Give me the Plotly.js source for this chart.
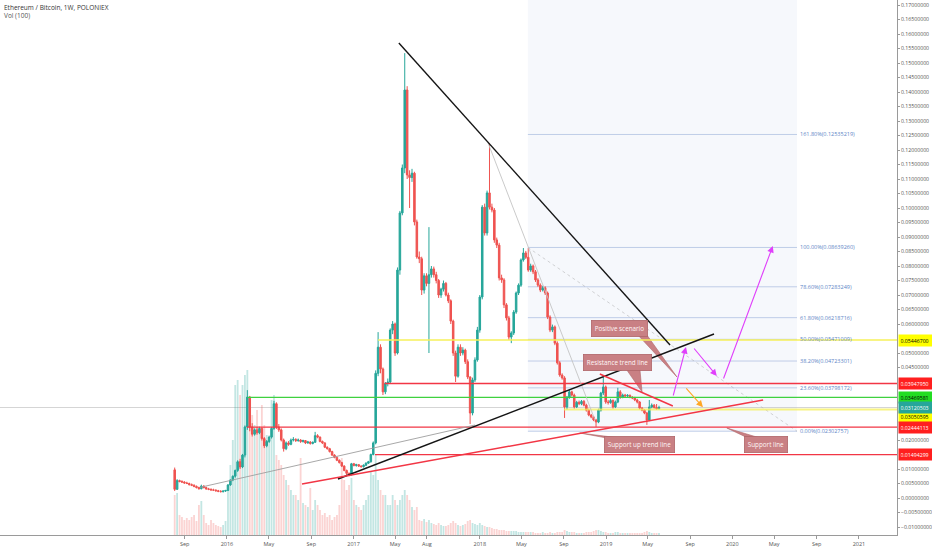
<!DOCTYPE html>
<html>
<head>
<meta charset="utf-8">
<script src="https://cdn.plot.ly/plotly-3.0.1.min.js"></script>
<style>html,body{margin:0;padding:0;background:#fff;}#chart{width:932px;height:550px;}</style>
</head>
<body>
<div id="chart"></div>
<script>
// ===== DATA (weekly ETH/BTC, Poloniex) =====
const firstWeek = '2015-08-03';
const opens = [
.0097,.0030,.0060,.0057,.0055,.0052,.0050,.0046,.0044,.0040,
.0036,.0032,.0041,.0036,.0031,.0030,.0028,.0027,.0025,.0023,
.0022,.0024,.0026,.0045,.0062,.0075,.0095,.0125,.0107,.0148,
.0245,.0348,.0245,.0220,.0235,.0225,.0240,.0205,.0180,.0195,
.0210,.0240,.0325,.0245,.0235,.0200,.0170,.0190,.0185,.0200,
.0202,.0198,.0200,.0195,.0198,.0190,.0193,.0188,.0192,.0215,
.0210,.0195,.0190,.0175,.0170,.0160,.0148,.0140,.0130,.0122,
.0110,.0095,.0085,.0080,.0118,.0112,.0115,.0110,.0108,.0113,
.0120,.0125,.0150,.0190,.0430,.0520,.0445,.0366,.0395,.0400,
.0579,.0600,.0500,.0786,.0983,.1138,.1407,.1114,.1105,.1120,
.0952,.0831,.0825,.0717,.0766,.0740,.0770,.0790,.0770,.0750,
.0700,.0720,.0740,.0700,.0680,.0610,.0500,.0420,.0520,.0500,
.0510,.0470,.0417,.0293,.0407,.0476,.0579,.0693,.1003,.0914,
.1052,.1003,.0993,.0890,.0872,.0759,.0752,.0666,.0621,.0555,
.0569,.0641,.0707,.0734,.0821,.0845,.0830,.0786,.0800,.0780,
.0752,.0734,.0717,.0725,.0707,.0624,.0579,.0590,.0534,.0466,
.0424,.0414,.0314,.0348,.0366,.0355,.0314,.0330,.0325,.0333,
.0320,.0303,.0286,.0279,.0269,.0262,.0303,.0362,.0383,.0331,
.0329,.0336,.0314,.0331,.0366,.0348,.0355,.0352,.0354,.0348,
.0345,.0338,.0331,.0310,.0303,.0293,.0269,.0314,.0320,.0312,
.0308];
const highs = [
.0105,.0065,.0063,.0061,.0058,.0056,.0053,.0050,.0047,.0043,
.0039,.0046,.0044,.0039,.0035,.0033,.0032,.0030,.0028,.0027,
.0026,.0028,.0048,.0064,.0078,.0098,.0130,.0135,.0152,.0250,
.0372,.0352,.0258,.0240,.0245,.0246,.0243,.0210,.0200,.0215,
.0245,.0335,.0330,.0255,.0240,.0205,.0195,.0196,.0205,.0210,
.0206,.0205,.0203,.0201,.0200,.0197,.0196,.0195,.0228,.0220,
.0212,.0198,.0192,.0178,.0173,.0163,.0151,.0143,.0133,.0125,
.0113,.0098,.0088,.0121,.0121,.0118,.0117,.0113,.0116,.0123,
.0128,.0153,.0195,.0440,.0572,.0530,.0450,.0400,.0412,.0585,
.0610,.0605,.0795,.0990,.1150,.1534,.1420,.1130,.1135,.1125,
.0960,.0850,.0832,.0775,.0775,.0934,.0800,.0798,.0780,.0755,
.0725,.0750,.0745,.0708,.0685,.0615,.0508,.0530,.0530,.0520,
.0515,.0478,.0420,.0415,.0485,.0590,.0700,.1010,.1015,.1060,
.1224,.1015,.1000,.0898,.0880,.0770,.0758,.0672,.0628,.0575,
.0648,.0712,.0740,.0826,.0862,.0852,.0862,.0808,.0805,.0786,
.0758,.0740,.0732,.0730,.0712,.0630,.0598,.0595,.0540,.0472,
.0430,.0420,.0352,.0372,.0370,.0360,.0335,.0336,.0338,.0338,
.0325,.0308,.0290,.0283,.0273,.0308,.0366,.0417,.0388,.0338,
.0342,.0340,.0336,.0380,.0372,.0360,.0359,.0358,.0357,.0351,
.0349,.0342,.0334,.0314,.0307,.0297,.0338,.0326,.0324,.0324,
.0318];
const lows = [
.0024,.0028,.0054,.0052,.0049,.0048,.0043,.0041,.0037,.0033,
.0029,.0030,.0033,.0029,.0027,.0025,.0024,.0022,.0020,.0019,
.0019,.0021,.0024,.0042,.0058,.0070,.0090,.0100,.0103,.0140,
.0235,.0230,.0212,.0215,.0218,.0220,.0198,.0172,.0175,.0190,
.0205,.0235,.0238,.0228,.0195,.0160,.0165,.0180,.0182,.0195,
.0193,.0194,.0190,.0191,.0186,.0187,.0184,.0185,.0190,.0206,
.0192,.0186,.0172,.0167,.0157,.0145,.0137,.0127,.0119,.0107,
.0092,.0079,.0075,.0078,.0109,.0108,.0107,.0105,.0105,.0110,
.0117,.0122,.0147,.0185,.0420,.0430,.0355,.0358,.0385,.0395,
.0565,.0490,.0495,.0770,.0975,.1120,.1100,.1000,.1090,.0940,
.0825,.0810,.0700,.0705,.0730,.0500,.0760,.0760,.0740,.0690,
.0690,.0712,.0695,.0672,.0600,.0490,.0400,.0415,.0490,.0492,
.0462,.0410,.0255,.0285,.0400,.0470,.0570,.0685,.0905,.0905,
.0995,.0985,.0880,.0862,.0750,.0742,.0655,.0612,.0545,.0534,
.0562,.0635,.0700,.0728,.0815,.0824,.0780,.0780,.0772,.0745,
.0728,.0710,.0712,.0700,.0617,.0572,.0572,.0527,.0460,.0418,
.0408,.0276,.0305,.0342,.0350,.0308,.0310,.0320,.0320,.0316,
.0298,.0282,.0275,.0265,.0245,.0258,.0298,.0355,.0325,.0322,
.0325,.0308,.0310,.0327,.0342,.0344,.0347,.0348,.0344,.0341,
.0334,.0326,.0305,.0299,.0289,.0252,.0265,.0309,.0308,.0304,
.0305];
const closes = [
.0030,.0060,.0057,.0055,.0052,.0050,.0046,.0044,.0040,.0036,
.0032,.0041,.0036,.0031,.0030,.0028,.0027,.0025,.0023,.0022,
.0024,.0026,.0045,.0062,.0075,.0095,.0125,.0107,.0148,.0245,
.0348,.0245,.0220,.0235,.0225,.0240,.0205,.0180,.0195,.0210,
.0240,.0325,.0245,.0235,.0200,.0170,.0190,.0185,.0200,.0202,
.0198,.0200,.0195,.0198,.0190,.0193,.0188,.0192,.0215,.0210,
.0195,.0190,.0175,.0170,.0160,.0148,.0140,.0130,.0122,.0110,
.0095,.0085,.0080,.0118,.0112,.0115,.0110,.0108,.0113,.0120,
.0125,.0150,.0190,.0430,.0520,.0445,.0366,.0395,.0400,.0579,
.0600,.0500,.0786,.0983,.1138,.1407,.1114,.1105,.1120,.0952,
.0831,.0825,.0717,.0766,.0740,.0770,.0790,.0770,.0750,.0700,
.0720,.0740,.0700,.0680,.0610,.0500,.0420,.0520,.0500,.0510,
.0470,.0417,.0293,.0407,.0476,.0579,.0693,.1003,.0914,.1052,
.1003,.0993,.0890,.0872,.0759,.0752,.0666,.0621,.0555,.0569,
.0641,.0707,.0734,.0821,.0845,.0830,.0786,.0800,.0780,.0752,
.0734,.0717,.0725,.0707,.0624,.0579,.0590,.0534,.0466,.0424,
.0414,.0314,.0348,.0366,.0355,.0314,.0330,.0325,.0333,.0320,
.0303,.0286,.0279,.0269,.0262,.0303,.0362,.0383,.0331,.0329,
.0336,.0314,.0331,.0366,.0348,.0355,.0352,.0354,.0348,.0345,
.0338,.0331,.0310,.0303,.0293,.0269,.0314,.0320,.0312,.0308,
.03120503];
// weekly volume (estimated, thousand BTC)
const volumes = [
40,42,20,18,15,17,15,18,20,14,
30,34,20,12,10,15,12,10,9,8,
10,14,50,70,95,150,155,140,150,160,
165,135,120,110,125,105,130,110,100,95,
135,140,80,75,70,60,55,50,45,40,
40,35,77,32,30,28,47,25,35,30,
25,20,22,18,20,15,18,20,30,77,
55,45,50,57,35,30,28,25,30,35,
40,63,60,80,55,45,40,40,30,30,
40,35,30,35,40,45,40,35,28,25,
28,15,14,16,13,15,12,11,10,12,
10,9,9,10,12,14,12,10,9,10,
11,14,15,12,11,10,12,10,9,8,
8,7,6,6,5,5,5,4,4,4,
4,4,3,3,3,3,3,3,3,2,
2,2,3,2,2,3,2,2,3,3,
3,5,4,3,3,3,2,2,2,2,
3,3,3,4,5,5,4,3,3,2,
2,2,3,3,2,2,2,2,2,2,
2,2,2,2,3,4,3,2,2,2,
2];

// Time axis labels
const timeTickDates = ['2015-09-01','2016-01-01','2016-05-01','2016-09-01','2017-01-01','2017-05-01','2017-08-01','2018-01-01','2018-05-01','2018-09-01','2019-01-01','2019-05-01','2019-09-01','2020-01-01','2020-05-01','2020-09-01','2021-01-01'];
const timeTickLabels = ['Sep','2016','May','Sep','2017','May','Aug','2018','May','Sep','2019','May','Sep','2020','May','Sep','2021'];

// Price axis labels (those hidden under the level boxes are left out)
const priceTickValues = [-0.010,-0.005,0.000,0.005,0.010,0.020,0.045,0.050,0.060,0.065,0.070,0.075,0.080,0.085,0.090,0.095,0.100,
  0.105,0.110,0.115,0.120,0.125,0.130,0.135,0.140,0.145,0.150,0.155,0.160,0.165,0.170];

// Horizontal price levels drawn on the chart
const levelPrices = [0.05446700, 0.03947950, 0.03469581, 0.03050595, 0.02444113, 0.01494299];
const levelStarts = ['2017-03-13','2017-04-01','2016-03-01','2018-09-01','2016-02-28','2017-03-04'];
const levelLineColors = ['rgba(245,240,90,0.75)','#f23645','#3fd13f','rgba(245,240,90,0.75)','#f23645','#f23645'];
const levelBoxColors = ['#ffff00','#ff1f1f','#22dd22','#ffff00','#ff1f1f','#ff1f1f'];
const levelTextColors = ['#000','#fff','#000','#000','#fff','#fff'];
const levelBoxShift = [0, 0, 0, -7, 0, 0];
const lastPrice = 0.03120503;

// Fibonacci retracement
const fibStart = '2018-05-20', fibEnd = '2020-07-06';
const fibRatios = ['161.80%','100.00%','78.60%','61.80%','50.00%','38.20%','23.60%','0.00%'];
const fibPrices = [0.12535219, 0.08639260, 0.07283249, 0.06218716, 0.05471009, 0.04723301, 0.03798172, 0.02302757];

// Trend lines [x0, y0, x1, y1]
const trendBlackDown = ['2017-05-12', 0.15690, '2019-07-05', 0.05276];
const trendBlackUp   = ['2016-11-17', 0.00655, '2019-11-09', 0.05655];
const trendGrayUp    = ['2015-10-15', 0.00366, '2017-12-18', 0.02517];
const trendGrayDown  = ['2018-01-25', 0.12241, '2018-11-30', 0.02690];
const trendRedSupport= ['2016-08-05', 0.00483, '2020-03-30', 0.03379];
const trendRedResist = ['2018-12-14', 0.04276, '2019-07-13', 0.03172];

// Scenario arrows [tail x, tail y, head x, head y]
const magentaArrows = [
  ['2019-07-13', 0.03483, '2019-08-20', 0.05207],
  ['2019-09-09', 0.05207, '2019-11-17', 0.04207],
  ['2019-12-05', 0.04069, '2020-04-27', 0.08690]
];
const orangeArrow = ['2019-08-17', 0.03828, '2019-10-08', 0.03131];

// Callouts: text, box centre, wedge base 1, wedge base 2, tip
const calloutTexts = ['Positive scenario','Resistance trend line','Support up trend line','Support line'];
const calloutCenters = [['2019-02-09',0.05845],['2019-02-04',0.04672],['2019-04-07',0.01828],['2020-04-07',0.01828]];
const calloutWedges = [
  [['2019-04-03',0.05621],['2019-04-29',0.05621],['2019-07-25',0.04172]],
  [['2019-03-02',0.04414],['2019-04-09',0.04414],['2019-04-15',0.03655]],
  [['2019-01-03',0.02069],['2019-02-10',0.02069],['2018-10-17',0.02241]],
  [['2020-02-15',0.02069],['2020-03-21',0.02069],['2019-12-16',0.02414]]
];

// ===== BUILD =====
const dates = [];
{
  const t0 = Date.parse(firstWeek + 'T00:00:00Z');
  for (let i = 0; i < closes.length; i++) {
    dates.push(new Date(t0 + i * 7 * 86400000).toISOString().slice(0, 10));
  }
}
const UP = '#26a69a', DOWN = '#ef5350';
const volColors = closes.map((c, i) => c >= opens[i] ? 'rgba(38,166,154,0.28)' : 'rgba(239,83,80,0.25)');

const traces = [];
traces.push({
  type: 'bar', x: dates, y: volumes, yaxis: 'y2', marker: {color: volColors, line: {width: 0}},
  hoverinfo: 'skip'
});
traces.push({
  type: 'candlestick', x: dates, open: opens, high: highs, low: lows, close: closes,
  increasing: {line: {color: UP, width: 1}, fillcolor: UP},
  decreasing: {line: {color: DOWN, width: 1}, fillcolor: DOWN},
  whiskerwidth: 0, hoverinfo: 'skip'
});
const calloutFill = '#c98084';
calloutWedges.forEach(w => {
  traces.push({
    type: 'scatter', mode: 'lines', x: [w[0][0], w[1][0], w[2][0], w[0][0]],
    y: [w[0][1], w[1][1], w[2][1], w[0][1]], fill: 'toself', fillcolor: calloutFill,
    line: {width: 0.6, color: '#b0666a'}, hoverinfo: 'skip'
  });
});

const shapes = [];
shapes.push({type: 'rect', xref: 'x', yref: 'y', x0: fibStart, x1: fibEnd, y0: fibPrices[7], y1: 0.2,
  fillcolor: 'rgba(110,140,200,0.06)', line: {width: 0}, layer: 'below'});
fibPrices.forEach(p => shapes.push({type: 'line', xref: 'x', yref: 'y', x0: fibStart, x1: fibEnd, y0: p, y1: p,
  line: {color: 'rgba(120,150,205,0.55)', width: 0.8}, layer: 'below'}));
shapes.push({type: 'line', xref: 'x', yref: 'y', x0: fibStart, y0: fibPrices[1], x1: fibEnd, y1: fibPrices[7],
  line: {color: 'rgba(150,150,150,0.5)', width: 0.8, dash: 'dot'}, layer: 'below'});
shapes.push({type: 'line', xref: 'x', yref: 'y', x0: '2014-01-01', x1: '2022-01-01', y0: lastPrice, y1: lastPrice,
  line: {color: 'rgba(180,180,180,0.7)', width: 0.8}, layer: 'below'});
levelPrices.forEach((p, i) => shapes.push({type: 'line', xref: 'x', yref: 'y', x0: levelStarts[i], x1: '2022-01-01', y0: p, y1: p,
  line: {color: levelLineColors[i], width: levelLineColors[i].startsWith('rgba') ? 2 : 1.4}}));
function tl(a, color, width) {
  shapes.push({type: 'line', xref: 'x', yref: 'y', x0: a[0], y0: a[1], x1: a[2], y1: a[3], line: {color: color, width: width}});
}
tl(trendGrayUp, '#9e9e9e', 0.9);
tl(trendGrayDown, '#c4c4c4', 0.9);
tl(trendBlackDown, '#151515', 1.4);
tl(trendBlackUp, '#151515', 1.4);
tl(trendRedSupport, '#f23645', 1.5);
tl(trendRedResist, '#f23645', 1.5);

const annotations = [];
const FONT = 'Open Sans, Liberation Sans, sans-serif';
annotations.push({xref: 'paper', yref: 'paper', x: 0, y: 1, xanchor: 'left', yanchor: 'top', xshift: 2, yshift: -1,
  text: 'Ethereum / Bitcoin, 1W, POLONIEX', showarrow: false, font: {family: FONT, size: 6.5, color: '#333'}});
annotations.push({xref: 'paper', yref: 'paper', x: 0, y: 1, xanchor: 'left', yanchor: 'top', xshift: 2, yshift: -9,
  text: 'Vol (100)', showarrow: false, font: {family: FONT, size: 6.5, color: '#555'}});
fibPrices.forEach((p, i) => annotations.push({xref: 'x', yref: 'y', x: fibEnd, y: p, xanchor: 'left', yanchor: 'middle', xshift: 1,
  text: fibRatios[i] + '(' + p.toFixed(8) + ')', showarrow: false, font: {family: FONT, size: 5.5, color: '#5b84c6'}}));
const axX = 897 / 932;
function priceBox(p, bg, fg, shift) {
  annotations.push({xref: 'paper', yref: 'y', x: axX, y: p, xanchor: 'left', yanchor: 'middle', xshift: 1, yshift: shift,
    text: p.toFixed(8), showarrow: false, bgcolor: bg, borderpad: 1.5, width: 31, align: 'left',
    font: {family: FONT, size: 5.2, color: fg}});
}
levelPrices.forEach((p, i) => priceBox(p, levelBoxColors[i], levelTextColors[i], levelBoxShift[i]));
priceBox(lastPrice, '#26a69a', '#fff', 0);
calloutTexts.forEach((t, i) => annotations.push({xref: 'x', yref: 'y', x: calloutCenters[i][0], y: calloutCenters[i][1],
  text: t, showarrow: false, bgcolor: calloutFill, bordercolor: '#b0666a', borderwidth: 0.8, borderpad: 3,
  font: {family: FONT, size: 6.3, color: '#fff6f6'}}));
function arrow(a, color) {
  annotations.push({xref: 'x', yref: 'y', axref: 'x', ayref: 'y', x: a[2], y: a[3], ax: a[0], ay: a[1], text: '',
    showarrow: true, arrowhead: 2, arrowsize: 1.2, arrowwidth: 1.1, arrowcolor: color});
}
magentaArrows.forEach(a => arrow(a, '#e040fb'));
arrow(orangeArrow, '#ffa726');

const layout = {
  width: 932, height: 550, margin: {l: 0, r: 0, t: 0, b: 15},
  paper_bgcolor: '#ffffff', plot_bgcolor: '#ffffff', showlegend: false,
  font: {family: FONT, size: 5.5, color: '#555'},
  xaxis: {type: 'date', domain: [0, axX], range: ['2014-03-16', '2021-04-21'], showgrid: false, zeroline: false,
    showline: true, linecolor: '#9a9a9a', linewidth: 1, ticks: 'outside', ticklen: 3, tickcolor: '#9a9a9a',
    tickvals: timeTickDates, ticktext: timeTickLabels, tickfont: {family: FONT, size: 5.5, color: '#555'},
    rangeslider: {visible: false}, fixedrange: true},
  yaxis: {side: 'right', range: [-0.012759, 0.171724], tickvals: priceTickValues, tickformat: '.8f',
    showline: true, linecolor: '#9a9a9a', linewidth: 1, ticks: 'outside', ticklen: 2, tickcolor: '#9a9a9a',
    showgrid: false, zeroline: false, tickfont: {family: FONT, size: 5.2, color: '#555'}, fixedrange: true},
  yaxis2: {overlaying: 'y', range: [0, 535], visible: false, fixedrange: true},
  bargap: 0.25, boxgap: 0.1,
  shapes: shapes, annotations: annotations
};
Plotly.newPlot('chart', traces, layout, {displayModeBar: false, staticPlot: true});
</script>
</body>
</html>
